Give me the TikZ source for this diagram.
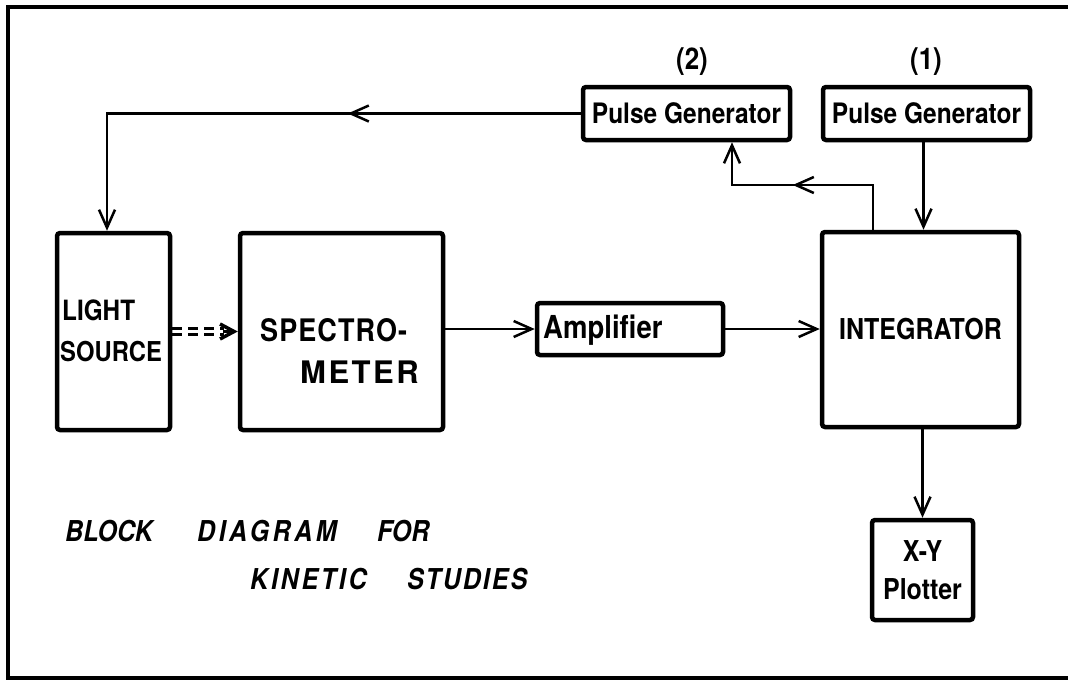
\documentclass[tikz,border=0pt]{standalone}
\usepackage{fontspec}
\usepackage{graphicx}
\setmainfont{TeX Gyre Heros}
\usetikzlibrary{arrows.meta,decorations.markings}
\newcommand\myfs[1]{\fontsize{#1}{#1}\selectfont\bfseries}
\newcommand\tl[2][1]{\scalebox{#1}[1.15]{#2}}
\begin{document}
\begin{tikzpicture}[x=1pt,y=-1pt,
  >={Straight Barb[length=18pt,width=16pt,line width=2.5pt]},
  box/.style={draw, line width=4.5pt, rounded corners=3pt, inner sep=0pt, font=\myfs{25}},
  txt/.style={inner sep=0pt, font=\myfs{25}},
  ital/.style={inner sep=0pt, anchor=base west, font=\myfs{25}\itshape},
  conn/.style={line width=2.5pt, line join=miter},
  dline/.style={line width=2.7pt, dash pattern=on 10pt off 6pt},
  frame/.style={line width=4pt},
  midarrow/.style={postaction={decorate}, decoration={markings, mark=at position #1 with {\arrow{>}}}}]
\useasboundingbox (0,0) rectangle (1068,681);
% outer frame
\draw[frame] (1068,7) -- (8,7) -- (8,678) -- (1068,678);
% boxes
\node[box, minimum width=113pt, minimum height=197pt] (ls) at (113.5,331.5) {};
\node[box, minimum width=203pt, minimum height=197pt] (spec) at (341.5,331.5) {};
\node[box, minimum width=186pt, minimum height=52pt] (amp) at (630,329) {};
\node[box, minimum width=197pt, minimum height=195pt] (integ) at (920.5,329.5) {\tl{INTEGRATOR}};
\node[box, minimum width=101pt, minimum height=100pt, align=center] (xy) at (922.5,570) {\tl{X-Y}\\[13pt]\tl{Plotter}};
\node[box, minimum width=207pt, minimum height=53pt, font=\myfs{24.5}] (pg2) at (686.5,113.5) {\tl{Pulse Generator}};
\node[box, minimum width=207pt, minimum height=53pt, font=\myfs{24.5}] (pg1) at (926.5,113.5) {\tl{Pulse Generator}};
% labels
\node[txt, font=\myfs{26}] (l2) at (692,62) {\tl{(2)}};
\node[txt, font=\myfs{26}] (l1) at (926,62) {\tl{(1)}};
\node[txt, anchor=base west, font=\myfs{24.3}] (lsA) at (62,320) {\tl{LIGHT}};
\node[txt, anchor=base west, font=\myfs{23.8}] (lsB) at (60,361) {\tl{SOURCE}};
\node[txt, anchor=base west, font=\myfs{27}\addfontfeature{LetterSpace=4}] (spA) at (260,341) {\tl{SPECTRO-}};
\node[txt, anchor=base east, font=\myfs{27}\addfontfeature{LetterSpace=8}] (spB) at (419,383) {\tl[1.15]{METER}};
\node[txt, anchor=base west, font=\myfs{27.5}] (ampT) at (543,338) {\tl{Amplifier}};
\node[ital] (w1) at (65,541) {\tl{BLOCK}};
\node[ital, font=\myfs{25}\itshape\addfontfeature{LetterSpace=14}] (w2) at (197,541) {\tl{DIAGRAM}};
\node[ital] (w3) at (377,541) {\tl{FOR}};
\node[ital, font=\myfs{25}\itshape\addfontfeature{LetterSpace=11}] (w4) at (250,589) {\tl{KINETIC}};
\node[ital, font=\myfs{25}\itshape\addfontfeature{LetterSpace=8}] (w5) at (407,589) {\tl{STUDIES}};
% connectors
\coordinate (c1) at (107,113.5);
\draw[conn, ->, midarrow=233pt] (pg2.west) -- (c1) -- (c1 |- ls.north);
\draw[dline, shorten >=14pt] ([yshift=3pt]ls.east) -- ([yshift=3pt]ls.east -| spec.west);
\draw[dline, shorten >=14pt] ([yshift=-3pt]ls.east) -- ([yshift=-3pt]ls.east -| spec.west);
\draw[line width=3pt, -{Straight Barb[length=14pt,width=15pt,line width=3.5pt]}] ([xshift=-15pt]spec.west) -- (spec.west);
\draw[conn, ->] (spec.east |- amp.west) -- (amp.west);
\draw[conn, ->] (amp.east) -- (amp.east -| integ.west);
\draw[conn, ->] (xy.north |- integ.south) -- (xy.north);
\draw[conn, ->] ([xshift=-3pt]pg1.south) -- ([xshift=-3pt]pg1.south |- integ.north);
\coordinate (fbR) at (873,185);
\coordinate (fbL) at (732,185);
\draw[conn, ->, midarrow=125pt] (fbR |- integ.north) -- (fbR) -- (fbL) -- (fbL |- pg2.south);
\end{tikzpicture}
\end{document}
